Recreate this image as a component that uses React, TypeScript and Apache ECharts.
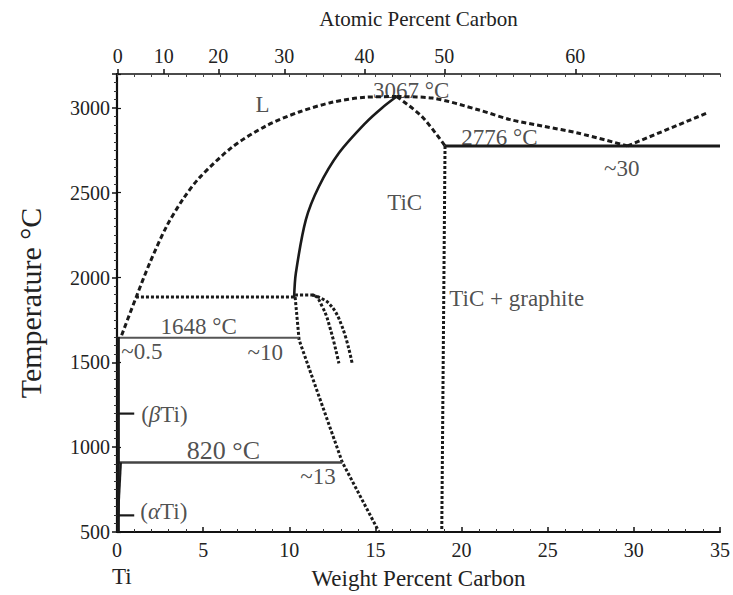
import React, { useEffect, useRef } from "react";
import * as echarts from "echarts";

// ---- axis data ----
const ATOMIC_LABELS = [0, 10, 20, 30, 40, 50, 60];
const ATOMIC_WT_POS = [0.04, 2.72, 5.88, 9.71, 14.37, 19.0, 26.6];

// ---- phase boundaries (wt% C, °C) ----
const liquidusLeftWt = [0.27, 1.1, 1.91, 2.87, 3.81, 4.79, 6.7, 8.65, 10.57, 12.48, 14.42, 16.23];
const liquidusLeftT = [1660, 1881, 2088, 2300, 2459, 2589, 2770, 2894, 2976, 3033, 3063, 3067];

const liquidusRightWt = [16.23, 18.3, 20.97, 22.87, 24.8, 26.74, 29.63];
const liquidusRightT = [3067, 3058, 2989, 2930, 2891, 2852, 2776];

const hyperWt = [29.63, 34.25];
const hyperT = [2776, 2970];

const ticRightWt = [16.23, 17.69, 19.04];
const ticRightT = [3067, 2950, 2776];

const ticVertWt = [19.04, 18.85];
const ticVertT = [2776, 500];

const eutecticLineWt = [19.04, 35];
const eutecticLineT = [2776, 2776];

const ticLeftWt = [10.28, 10.38, 10.96, 11.72, 12.88, 14.42, 15.38, 16.23];
const ticLeftT = [1881, 2025, 2340, 2537, 2734, 2911, 3000, 3067];

const periLineWt = [1.1, 10.28];
const periLineT = [1885, 1885];

const ticLowerWt = [10.34, 10.57, 11.53, 13.07, 15.19];
const ticLowerT = [1885, 1632, 1356, 913, 504];

const curveAWt = [10.34, 11.34, 11.92, 12.4, 12.88];
const curveAT = [1897, 1897, 1828, 1691, 1494];

const curveBWt = [11.34, 12.3, 13.07, 13.65];
const curveBT = [1897, 1848, 1710, 1494];

const iso1648Wt = [0, 10.57];
const iso1648T = [1645, 1645];

const iso820Wt = [0, 13.07];
const iso820T = [910, 910];

const betaWallWt = [0.08, 0.08];
const betaWallT = [500, 1650];

const alphaSolvusWt = [0.23, 0.02];
const alphaSolvusT = [910, 500];

const betaArrowWt = [0, 1.0];
const betaArrowT = [1198, 1198];

const alphaArrowWt = [0, 1.0];
const alphaArrowT = [598, 598];

// ---- annotations ----
const ANNOT_TEXT = ["L", "3067 °C", "2776 °C", "~30", "TiC", "TiC + graphite", "1648 °C", "~0.5", "~10", "(βTi)", "820 °C", "~13", "(αTi)"];
const ANNOT_WT = [8.45, 17.07, 22.2, 29.3, 16.7, 23.2, 4.74, 1.44, 8.6, 2.75, 6.18, 11.67, 2.72];
const ANNOT_T = [3018, 3103, 2828, 2645, 2442, 1874, 1710, 1563, 1557, 1195, 982, 829, 618];

const FONT = "'Liberation Serif', 'Times New Roman', serif";
const INK = "#1a1a1a";
const TXT = "#222";

function pts(xs: number[], ys: number[]) {
  return xs.map((x, i) => [x, ys[i]]);
}

function line(name: string, xs: number[], ys: number[], style: any, smooth: any = false) {
  return {
    name,
    type: "line",
    data: pts(xs, ys),
    showSymbol: false,
    symbol: "none",
    smooth,
    silent: true,
    lineStyle: style,
    clip: false,
  };
}

export default function App() {
  const ref = useRef<HTMLDivElement>(null);
  useEffect(() => {
    if (!ref.current) return;
    const chart = echarts.init(ref.current, null, { renderer: "svg" });
    const dashed = { color: INK, width: 3, type: [5, 3] };
    const dotted = { color: INK, width: 3, type: [3, 2] };
    const solid = { color: INK, width: 2.6, type: "solid" };
    const tickFont = { fontFamily: FONT, fontSize: 20, color: TXT };
    const bigLabels: Record<string, number> = { "820 °C": 26 };
    const option: any = {
      animation: false,
      backgroundColor: "#fff",
      grid: { left: 117, right: 10, top: 74, bottom: 63 },
      xAxis: [
        {
          type: "value",
          position: "bottom",
          min: 0,
          max: 35,
          interval: 5,
          name: "Weight Percent Carbon",
          nameLocation: "middle",
          nameGap: 35,
          nameTextStyle: { fontFamily: FONT, fontSize: 23, color: TXT },
          axisLine: { show: true, lineStyle: { color: "#111", width: 2.2 } },
          axisTick: { show: true, inside: true, length: 5, lineStyle: { color: "#111", width: 1.5 } },
          minorTick: { show: true, splitNumber: 5, length: 3, lineStyle: { color: "#333" } },
          axisLabel: { ...tickFont, margin: 8 },
          splitLine: { show: false },
        },
        {
          type: "value",
          position: "top",
          min: 0,
          max: 35,
          name: "Atomic Percent Carbon",
          nameLocation: "middle",
          nameGap: 45,
          nameTextStyle: { fontFamily: FONT, fontSize: 21, color: TXT },
          axisLine: { show: true, lineStyle: { color: "#111", width: 1.6 } },
          axisTick: { show: true, inside: false, length: 5, customValues: ATOMIC_WT_POS, lineStyle: { color: "#111", width: 1.5 } },
          axisLabel: {
            customValues: ATOMIC_WT_POS,
            ...tickFont,
            margin: 8,
            formatter: (v: number) => {
              const i = ATOMIC_WT_POS.findIndex((w) => Math.abs(w - v) < 1e-6);
              return i >= 0 ? String(ATOMIC_LABELS[i]) : "";
            },
          },
          splitLine: { show: false },
        },
        {
          type: "value",
          position: "top",
          min: 0,
          max: 35,
          interval: 1,
          axisLine: { show: false },
          axisTick: { show: true, inside: true, length: 3, lineStyle: { color: "#444", width: 1 } },
          axisLabel: { show: false },
          splitLine: { show: false },
        },
      ],
      yAxis: [
        {
          type: "value",
          position: "left",
          min: 500,
          max: 3200,
          interval: 500,
          name: "Temperature °C",
          nameLocation: "middle",
          nameGap: 72,
          nameTextStyle: { fontFamily: FONT, fontSize: 30, color: TXT },
          axisLine: { show: true, lineStyle: { color: "#111", width: 2.2 } },
          axisTick: { show: true, inside: false, length: 5, lineStyle: { color: "#111", width: 1.5 } },
          minorTick: { show: true, splitNumber: 10, length: 3, lineStyle: { color: "#333" } },
          axisLabel: { ...tickFont, margin: 7, showMaxLabel: false, formatter: (v: number) => String(v) },
          splitLine: { show: false },
        },
        {
          type: "value",
          position: "right",
          min: 500,
          max: 3200,
          interval: 500,
          axisLine: { show: true, lineStyle: { color: "#111", width: 1.6 } },
          axisTick: { show: true, inside: false, length: 4, lineStyle: { color: "#111", width: 1.2 } },
          axisLabel: { show: false },
          splitLine: { show: false },
        },
      ],
      series: [
        line("liquidus-left", liquidusLeftWt, liquidusLeftT, dashed, 0.3),
        line("liquidus-right", liquidusRightWt, liquidusRightT, dashed, 0.3),
        line("hyper", hyperWt, hyperT, dashed),
        line("tic-right", ticRightWt, ticRightT, dashed, 0.3),
        line("tic-vert", ticVertWt, ticVertT, dotted),
        line("eutectic", eutecticLineWt, eutecticLineT, { color: INK, width: 3 }),
        line("tic-left", ticLeftWt, ticLeftT, solid, 0.3),
        line("peritectic", periLineWt, periLineT, dotted),
        line("tic-lower", ticLowerWt, ticLowerT, dotted),
        line("curve-a", curveAWt, curveAT, dotted, 0.4),
        line("curve-b", curveBWt, curveBT, dotted, 0.4),
        line("iso-1648", iso1648Wt, iso1648T, { color: "#555", width: 1.8 }),
        line("iso-820", iso820Wt, iso820T, { color: "#444", width: 2.6 }),
        line("beta-wall", betaWallWt, betaWallT, { color: INK, width: 3 }),
        line("alpha-solvus", alphaSolvusWt, alphaSolvusT, { color: INK, width: 2 }),
        line("beta-arrow", betaArrowWt, betaArrowT, { color: INK, width: 2.2 }),
        line("alpha-arrow", alphaArrowWt, alphaArrowT, { color: INK, width: 2.2 }),
        {
          name: "labels",
          type: "scatter",
          symbolSize: 0,
          silent: true,
          clip: false,
          data: ANNOT_TEXT.map((t, i) => {
            const item: any = { value: [ANNOT_WT[i], ANNOT_T[i]], name: t };
            if (bigLabels[t]) item.label = { fontSize: bigLabels[t] };
            return item;
          }),
          label: {
            show: true,
            position: "inside",
            fontFamily: FONT,
            fontSize: 23,
            color: TXT,
            formatter: (p: any) => String(p.name).replace(/([βα])/g, "{i|$1}"),
            rich: { i: { fontFamily: FONT, fontSize: 23, fontStyle: "italic", color: TXT } },
          },
        },
      ],
      graphic: [
        {
          type: "text",
          left: 112,
          top: 565,
          style: { text: "Ti", font: `23px ${FONT}`, fill: TXT },
        },
      ],
    };
    chart.setOption(option);
    return () => chart.dispose();
  }, []);
  return (
    <div
      ref={ref}
      style={{ position: "fixed", left: 0, top: 0, width: 733, height: 595, background: "#fff" }}
    />
  );
}
